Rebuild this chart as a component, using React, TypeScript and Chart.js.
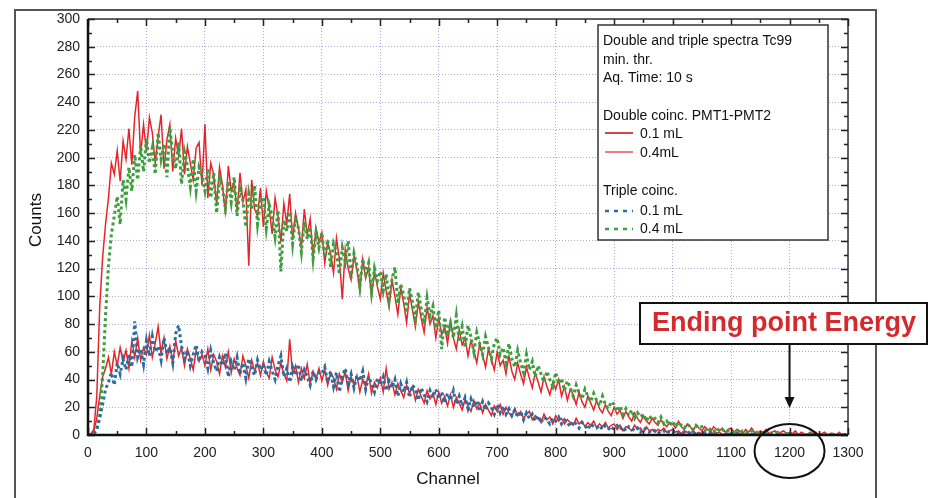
import { useEffect, useRef } from "react";
import { Chart, registerables } from "chart.js";
Chart.register(...registerables);

// Channel step between stored samples (categories: 0, 5, 10, ... 1300)
const CHANNEL_STEP = 5;

// Double coincidence PMT1-PMT2, 0.4 mL (upper red)
const double04 = [
  0, 1, 4, 28, 92, 128, 152, 171, 196, 188, 205, 183, 212, 199, 221, 195, 230, 248, 202, 224,
  204, 229, 218, 196, 215, 231, 192, 213, 224, 190, 214, 201, 221, 188, 208, 196, 184, 207, 211, 180,
  224, 171, 196, 188, 166, 193, 180, 159, 194, 176, 182, 161, 189, 168, 177, 122, 184, 163, 158, 178,
  150, 176, 163, 145, 171, 158, 139, 167, 152, 174, 141, 160, 149, 135, 163, 144, 156, 128, 149, 139,
  146, 124, 139, 131, 117, 142, 127, 98, 134, 120, 112, 129, 119, 104, 127, 113, 121, 100, 118, 107,
  98, 117, 104, 92, 112, 100, 87, 106, 95, 81, 102, 90, 78, 96, 84, 74, 92, 80, 86, 70,
  84, 72, 78, 66, 82, 70, 62, 76, 65, 70, 57, 68, 61, 52, 66, 58, 49, 62, 55, 47,
  60, 50, 54, 44, 57, 46, 40, 52, 44, 37, 49, 41, 34, 45, 38, 31, 42, 35, 29, 38,
  33, 40, 28, 35, 25, 33, 29, 22, 31, 24, 20, 28, 23, 18, 25, 19, 16, 22, 17, 14,
  20, 15, 18, 12, 17, 13, 10, 16, 12, 9, 14, 10, 8, 12, 9, 7, 11, 8, 6, 9,
  8, 5, 10, 6, 4, 8, 6, 3, 7, 5, 3, 6, 4, 2, 6, 4, 3, 5, 2, 4,
  5, 2, 4, 3, 1, 4, 2, 5, 2, 1, 3, 2, 4, 1, 2, 3, 1, 2, 3, 1,
  2, 1, 3, 0, 2, 1, 0, 2, 1, 2, 0, 1, 2, 0, 1, 1, 0, 2, 0, 1,
  0,
];

// Triple coincidence, 0.4 mL (upper green)
const triple04 = [
  0, 0, 1, 4, 14, 42, 86, 122, 145, 158, 172, 152, 184, 170, 193, 176, 202, 184, 209, 190,
  214, 196, 207, 188, 218, 199, 210, 186, 222, 203, 192, 211, 181, 204, 194, 179, 199, 176, 193, 187,
  176, 192, 171, 189, 160, 185, 178, 164, 183, 168, 186, 158, 177, 169, 150, 174, 163, 180, 152, 168,
  171, 149, 166, 158, 143, 162, 118, 155, 147, 161, 138, 157, 149, 132, 154, 141, 150, 127, 146, 135,
  146, 128, 141, 121, 138, 132, 116, 135, 125, 140, 113, 131, 122, 107, 127, 116, 124, 103, 120, 111,
  118, 104, 116, 98, 112, 121, 95, 109, 101, 88, 106, 96, 84, 103, 91, 80, 99, 86, 93, 77,
  90, 62, 85, 74, 81, 70, 86, 67, 78, 63, 79, 71, 60, 74, 66, 58, 71, 63, 55, 66,
  70, 58, 63, 52, 66, 55, 49, 61, 52, 45, 58, 47, 53, 42, 50, 44, 38, 46, 40, 35,
  45, 37, 41, 32, 39, 34, 28, 36, 30, 26, 33, 28, 24, 30, 25, 21, 28, 22, 19, 24,
  22, 17, 21, 15, 19, 14, 18, 12, 16, 13, 15, 10, 14, 11, 12, 9, 13, 8, 10, 7,
  10, 6, 9, 7, 5, 8, 6, 4, 7, 5, 6, 3, 5, 4, 2, 5, 3, 4, 2, 3,
  3, 2, 4, 1, 3, 2, 1, 3, 1, 2, 1, 2, 0, 2, 1, 1, 2, 0, 1, 1,
  1, 0, 1, 0, 1, 0, 0, 1, 0, 0, 1, 0, 0, 0, 1, 0, 0, 0, 0, 0,
  0,
];

// Double coincidence PMT1-PMT2, 0.1 mL (lower red)
const double01 = [
  0, 0, 3, 12, 28, 42, 48, 56, 44, 60, 50, 63, 53, 61, 48, 68, 56, 70, 54, 63,
  58, 72, 56, 66, 78, 59, 70, 55, 64, 52, 68, 57, 63, 50, 62, 55, 47, 61, 53, 58,
  50, 62, 47, 58, 53, 44, 57, 49, 60, 45, 55, 48, 43, 57, 50, 41, 54, 46, 52, 43,
  53, 45, 41, 56, 47, 42, 52, 44, 39, 69, 44, 50, 38, 48, 41, 51, 37, 46, 40, 48,
  39, 47, 36, 45, 41, 33, 44, 38, 46, 32, 42, 36, 43, 31, 40, 35, 44, 30, 38, 34,
  41, 31, 48, 33, 38, 29, 37, 32, 27, 36, 30, 35, 25, 33, 28, 23, 32, 26, 30, 22,
  31, 23, 28, 21, 29, 20, 27, 23, 18, 26, 21, 17, 25, 19, 23, 16, 22, 18, 14, 21,
  17, 22, 15, 20, 16, 13, 19, 14, 17, 12, 15, 17, 11, 14, 12, 9, 15, 11, 13, 8,
  14, 10, 12, 8, 11, 9, 7, 12, 8, 10, 6, 9, 7, 10, 5, 8, 6, 9, 5, 7,
  8, 4, 7, 3, 6, 5, 3, 7, 4, 5, 2, 6, 3, 4, 2, 4, 3, 5, 2, 3,
  4, 2, 3, 1, 3, 2, 1, 3, 1, 2, 1, 2, 0, 2, 1, 1, 2, 0, 1, 1,
  1, 0, 2, 1, 0, 1, 0, 1, 1, 0, 1, 0, 0, 1, 0, 0, 1, 0, 0, 0,
  0, 0, 1, 0, 0, 0, 0, 0, 1, 0, 0, 0, 0, 0, 0, 0, 0, 0, 0, 0,
  0,
];

// Triple coincidence, 0.1 mL (lower blue)
const triple01 = [
  0, 0, 1, 4, 12, 22, 33, 38, 45, 36, 52, 44, 55, 47, 58, 49, 82, 56, 62, 51,
  68, 57, 71, 60, 64, 54, 70, 59, 63, 52, 73, 79, 64, 55, 61, 50, 58, 65, 53, 60,
  57, 48, 61, 52, 46, 56, 50, 59, 42, 53, 47, 56, 44, 52, 41, 55, 48, 43, 54, 47,
  51, 43, 53, 46, 40, 50, 57, 42, 48, 38, 49, 43, 51, 39, 47, 42, 36, 46, 40, 45,
  44, 49, 38, 46, 35, 45, 31, 42, 48, 37, 44, 34, 43, 39, 46, 33, 42, 37, 31, 41,
  36, 42, 32, 39, 34, 40, 28, 37, 31, 38, 27, 36, 33, 25, 34, 29, 24, 32, 27, 33,
  26, 31, 23, 30, 25, 32, 22, 28, 21, 27, 19, 26, 20, 25, 17, 24, 18, 23, 20, 15,
  22, 16, 21, 15, 19, 14, 18, 13, 17, 11, 16, 12, 15, 10, 14, 9, 13, 11, 8, 12,
  10, 13, 8, 11, 9, 6, 10, 8, 5, 9, 7, 4, 8, 6, 5, 7, 4, 7, 5, 3,
  6, 7, 4, 6, 3, 6, 5, 3, 5, 2, 5, 4, 2, 4, 3, 1, 3, 3, 1, 3,
  2, 3, 1, 1, 2, 3, 1, 2, 0, 1, 2, 1, 1, 1, 0, 1, 1, 0, 1, 0,
  1, 0, 1, 0, 0, 1, 0, 0, 1, 0, 0, 0, 1, 0, 0, 0, 0, 0, 0, 0,
  0, 0, 0, 0, 0, 0, 0, 0, 0, 0, 0, 0, 0, 0, 0, 0, 0, 0, 0, 0,
  0,
];

const xTickValues = [0, 100, 200, 300, 400, 500, 600, 700, 800, 900, 1000, 1100, 1200, 1300];
const yTickValues = [0, 20, 40, 60, 80, 100, 120, 140, 160, 180, 200, 220, 240, 260, 280, 300];

const legendHeader = ["Double and triple spectra Tc99", "min. thr.", "Aq. Time: 10 s"];
const doubleTitle = "Double coinc. PMT1-PMT2";
const tripleTitle = "Triple coinc.";
const annotationText = "Ending point Energy";

const RED = "#e4262c";
const GREEN = "#3c9e3c";
const BLUE = "#2a6d9e";
const GRID = "rgba(120,120,200,0.65)";
const FONT = '"Liberation Sans", Arial, sans-serif';

const toPoints = (arr: number[]) => arr.map((y, i) => ({ x: i * CHANNEL_STEP, y }));

const decorPlugin = {
  id: "decor",
  afterDraw(chart: any) {
    const ctx: CanvasRenderingContext2D = chart.ctx;
    const { left, right, top, bottom } = chart.chartArea;
    const xs = chart.scales.x;
    const ys = chart.scales.y;
    ctx.save();

    // outer frame
    ctx.strokeStyle = "#555";
    ctx.lineWidth = 2;
    ctx.beginPath();
    ctx.moveTo(15, 498);
    ctx.lineTo(15, 10);
    ctx.lineTo(876, 10);
    ctx.lineTo(876, 498);
    ctx.stroke();

    // top/right plot border
    ctx.strokeStyle = "#333";
    ctx.lineWidth = 1.5;
    ctx.beginPath();
    ctx.moveTo(left, top);
    ctx.lineTo(right, top);
    ctx.lineTo(right, bottom);
    ctx.stroke();

    // inward ticks
    ctx.lineWidth = 1.5;
    ctx.strokeStyle = "#222";
    ctx.beginPath();
    for (let v = 0; v <= 1300; v += 50) {
      const px = Math.round(xs.getPixelForValue(v)) + 0.5;
      const len = v % 100 === 0 ? 7 : 4;
      ctx.moveTo(px, bottom);
      ctx.lineTo(px, bottom - len);
      ctx.moveTo(px, top);
      ctx.lineTo(px, top + len);
    }
    for (let v = 0; v <= 300; v += 10) {
      const py = Math.round(ys.getPixelForValue(v)) + 0.5;
      const len = v % 20 === 0 ? 7 : 4;
      ctx.moveTo(left, py);
      ctx.lineTo(left + len, py);
      ctx.moveTo(right, py);
      ctx.lineTo(right - len, py);
    }
    ctx.stroke();

    // thick left/bottom axes
    ctx.strokeStyle = "#111";
    ctx.lineWidth = 2.5;
    ctx.beginPath();
    ctx.moveTo(left, top);
    ctx.lineTo(left, bottom);
    ctx.lineTo(right, bottom);
    ctx.stroke();

    // axis titles
    ctx.fillStyle = "#111";
    ctx.font = `17px ${FONT}`;
    ctx.textAlign = "center";
    ctx.textBaseline = "middle";
    ctx.fillText("Channel", 448, 479);
    ctx.save();
    ctx.translate(36, 220);
    ctx.rotate(-Math.PI / 2);
    ctx.fillText("Counts", 0, 0);
    ctx.restore();

    // legend box
    const lx = 598, ly = 25, lw = 230, lh = 215;
    ctx.fillStyle = "#fff";
    ctx.fillRect(lx, ly, lw, lh);
    ctx.strokeStyle = "#333";
    ctx.lineWidth = 1.5;
    ctx.strokeRect(lx, ly, lw, lh);
    ctx.fillStyle = "#111";
    ctx.font = `14px ${FONT}`;
    ctx.textAlign = "left";
    ctx.textBaseline = "middle";
    const tx = 603;
    ctx.fillText(legendHeader[0], tx, 41);
    ctx.fillText(legendHeader[1], tx, 60);
    ctx.fillText(legendHeader[2], tx, 78);
    ctx.fillText(doubleTitle, tx, 116);
    ctx.fillText("0.1 mL", 640, 134);
    ctx.fillText("0.4mL", 640, 153);
    ctx.fillText(tripleTitle, tx, 191);
    ctx.fillText("0.1 mL", 640, 211);
    ctx.fillText("0.4 mL", 640, 229);
    ctx.lineWidth = 2;
    ctx.strokeStyle = "#d9434a";
    ctx.beginPath();
    ctx.moveTo(605, 133);
    ctx.lineTo(633, 133);
    ctx.stroke();
    ctx.strokeStyle = "#ef7b80";
    ctx.beginPath();
    ctx.moveTo(605, 152);
    ctx.lineTo(633, 152);
    ctx.stroke();
    ctx.setLineDash([4, 5]);
    ctx.lineWidth = 2.5;
    ctx.strokeStyle = BLUE;
    ctx.beginPath();
    ctx.moveTo(605, 211);
    ctx.lineTo(633, 211);
    ctx.stroke();
    ctx.strokeStyle = GREEN;
    ctx.beginPath();
    ctx.moveTo(605, 229);
    ctx.lineTo(633, 229);
    ctx.stroke();
    ctx.setLineDash([]);

    // annotation box
    ctx.fillStyle = "#fff";
    ctx.fillRect(640, 303, 287, 41);
    ctx.strokeStyle = "#111";
    ctx.lineWidth = 2;
    ctx.strokeRect(640, 303, 287, 41);
    ctx.fillStyle = "#d42a2e";
    ctx.font = `bold 27px ${FONT}`;
    ctx.textAlign = "center";
    ctx.textBaseline = "middle";
    ctx.fillText(annotationText, 784, 324);

    // arrow
    const ax = xs.getPixelForValue(1200);
    ctx.strokeStyle = "#111";
    ctx.lineWidth = 2;
    ctx.beginPath();
    ctx.moveTo(ax, 344);
    ctx.lineTo(ax, 400);
    ctx.stroke();
    ctx.fillStyle = "#111";
    ctx.beginPath();
    ctx.moveTo(ax - 5, 397);
    ctx.lineTo(ax + 5, 397);
    ctx.lineTo(ax, 408);
    ctx.closePath();
    ctx.fill();

    // ellipse around 1200
    ctx.beginPath();
    ctx.ellipse(ax, 451, 35, 27, 0, 0, Math.PI * 2);
    ctx.stroke();

    ctx.restore();
  },
};

export default function App() {
  const ref = useRef<HTMLCanvasElement>(null);
  useEffect(() => {
    if (!ref.current) return;
    const chart = new Chart(ref.current, {
      type: "line",
      data: {
        datasets: [
          {
            label: "Triple 0.1 mL",
            data: toPoints(triple01),
            borderColor: BLUE,
            borderWidth: 3,
            borderDash: [3, 3],
            pointRadius: 0,
            tension: 0,
          },
          {
            label: "Triple 0.4 mL",
            data: toPoints(triple04),
            borderColor: GREEN,
            borderWidth: 3,
            borderDash: [3, 3],
            pointRadius: 0,
            tension: 0,
          },
          {
            label: "Double 0.4mL",
            data: toPoints(double04),
            borderColor: RED,
            borderWidth: 1.5,
            pointRadius: 0,
            tension: 0,
          },
          {
            label: "Double 0.1 mL",
            data: toPoints(double01),
            borderColor: RED,
            borderWidth: 1.5,
            pointRadius: 0,
            tension: 0,
          },
        ],
      },
      options: {
        responsive: false,
        animation: false,
        layout: { padding: { left: 0, top: 19, right: 84, bottom: 0 } },
        plugins: { legend: { display: false }, tooltip: { enabled: false } },
        scales: {
          x: {
            type: "linear",
            min: 0,
            max: 1300,
            afterBuildTicks: (s: any) => {
              s.ticks = xTickValues.map((v) => ({ value: v }));
            },
            afterFit: (s: any) => {
              s.height = 63;
            },
            ticks: {
              font: { family: FONT, size: 14 },
              color: "#222",
              padding: 10,
              maxRotation: 0,
              autoSkip: false,
              callback: (v: any) => String(v),
            },
            grid: { drawTicks: false, color: GRID, lineWidth: 1 },
            border: { display: false, dash: [1, 2] },
          },
          y: {
            type: "linear",
            min: 0,
            max: 300,
            afterBuildTicks: (s: any) => {
              s.ticks = yTickValues.map((v) => ({ value: v }));
            },
            afterFit: (s: any) => {
              s.width = 88;
            },
            ticks: {
              font: { family: FONT, size: 14 },
              color: "#222",
              padding: 8,
              callback: (v: any) => String(v),
            },
            grid: { drawTicks: false, color: GRID, lineWidth: 1 },
            border: { display: false, dash: [1, 2] },
          },
        },
      },
      plugins: [decorPlugin],
    });
    return () => chart.destroy();
  }, []);
  return (
    <div style={{ position: "absolute", left: 0, top: 0, width: 932, height: 498, background: "#fff" }}>
      <canvas ref={ref} width={932} height={498} style={{ display: "block" }} />
    </div>
  );
}
